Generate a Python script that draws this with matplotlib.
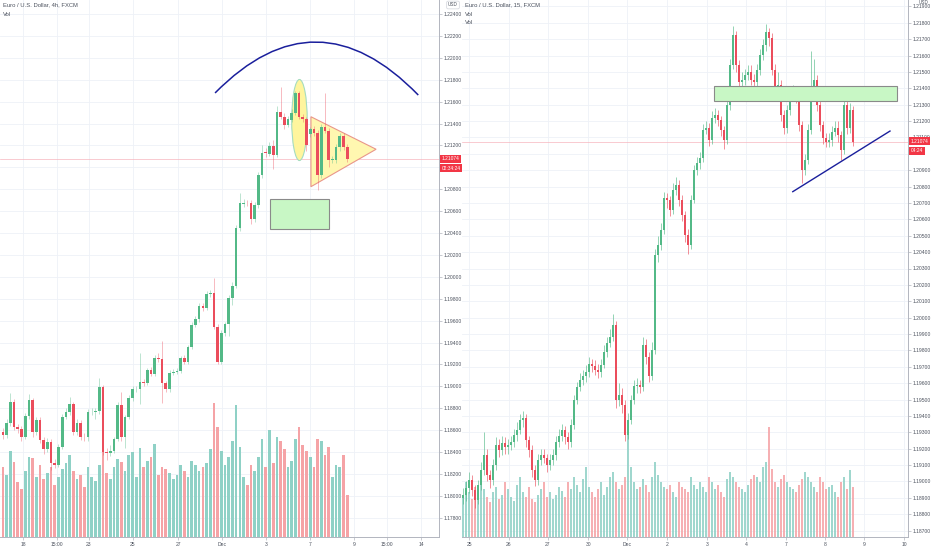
import matplotlib.pyplot as plt
import numpy as np
from matplotlib.patches import Ellipse, Polygon, Rectangle, PathPatch
from matplotlib.path import Path
from matplotlib.collections import PatchCollection
from matplotlib.transforms import blended_transform_factory

plt.rcParams["font.family"] = ["Liberation Sans", "DejaVu Sans"]

UP = "#53b987"
DOWN = "#eb4d5c"
VOL_UP = "#8fd1c6"
VOL_DOWN = "#f5a3a6"
GRID = "#eef1f7"
TXT = "#4c525e"
AXIS = "#b2b5be"

# ---- left panel: EURUSD 4h ----
L_OPEN = [1.18586, 1.18556, 1.18668, 1.18860, 1.18629, 1.18610, 1.18540, 1.18729, 1.18875, 1.18586,
          1.18693, 1.18510, 1.18425, 1.18494, 1.18300, 1.18282, 1.18449, 1.18723, 1.18766, 1.18839,
          1.18586, 1.18668, 1.18540, 1.18537, 1.18766, 1.18768, 1.18775, 1.18994, 1.18403, 1.18391,
          1.18412, 1.18519, 1.18830, 1.18540, 1.18720, 1.18894, 1.18976, 1.18976, 1.19042, 1.19033,
          1.19149, 1.19113, 1.19262, 1.19250, 1.19028, 1.18976, 1.19125, 1.19131, 1.19140, 1.19262,
          1.19222, 1.19362, 1.19560, 1.19612, 1.19734, 1.19718, 1.19843, 1.19855, 1.19545, 1.19225,
          1.19490, 1.19567, 1.19809, 1.19919, 1.20449, 1.20665, 1.20677, 1.20677, 1.20525, 1.20656,
          1.20930, 1.21143, 1.21122, 1.21195, 1.21113, 1.21508, 1.21462, 1.21387, 1.21432, 1.21499,
          1.21676, 1.21462, 1.21439, 1.21304, 1.21347, 1.21316, 1.20930, 1.21371, 1.21334, 1.21067,
          1.21067, 1.21183, 1.21286, 1.21183]
L_CLOSE = [1.18556, 1.18668, 1.18860, 1.18629, 1.18610, 1.18540, 1.18729, 1.18875, 1.18586, 1.18693,
           1.18510, 1.18425, 1.18494, 1.18300, 1.18282, 1.18449, 1.18723, 1.18766, 1.18839, 1.18586,
           1.18668, 1.18540, 1.18537, 1.18766, 1.18768, 1.18775, 1.18994, 1.18403, 1.18391, 1.18412,
           1.18519, 1.18830, 1.18540, 1.18720, 1.18894, 1.18976, 1.18978, 1.19042, 1.19033, 1.19149,
           1.19113, 1.19262, 1.19250, 1.19028, 1.18976, 1.19125, 1.19131, 1.19140, 1.19262, 1.19222,
           1.19362, 1.19560, 1.19612, 1.19734, 1.19718, 1.19843, 1.19855, 1.19545, 1.19225, 1.19490,
           1.19567, 1.19809, 1.19919, 1.20449, 1.20672, 1.20677, 1.20672, 1.20525, 1.20656, 1.20930,
           1.21128, 1.21128, 1.21195, 1.21113, 1.21508, 1.21462, 1.21387, 1.21439, 1.21499, 1.21676,
           1.21462, 1.21439, 1.21204, 1.21347, 1.21316, 1.20930, 1.21371, 1.21334, 1.21067, 1.21073,
           1.21183, 1.21286, 1.21183, 1.21074]
L_HIGH = [1.18620, 1.18700, 1.18939, 1.18880, 1.18660, 1.18640, 1.18760, 1.18930, 1.18890, 1.18720,
          1.18720, 1.18540, 1.18530, 1.18520, 1.18340, 1.18470, 1.18750, 1.18800, 1.18900, 1.18860,
          1.18700, 1.18690, 1.18570, 1.18790, 1.18800, 1.18800, 1.19080, 1.19010, 1.18440, 1.18460,
          1.18540, 1.18860, 1.18950, 1.18740, 1.18920, 1.19000, 1.19000, 1.19300, 1.19070, 1.19170,
          1.19180, 1.19290, 1.19300, 1.19410, 1.19050, 1.19150, 1.19160, 1.19170, 1.19280, 1.19290,
          1.19380, 1.19590, 1.19640, 1.19760, 1.19760, 1.19870, 1.19880, 1.19986, 1.19570, 1.19510,
          1.19590, 1.19830, 1.19950, 1.20470, 1.20765, 1.20710, 1.20700, 1.20700, 1.20680, 1.20960,
          1.21200, 1.21180, 1.21230, 1.21250, 1.21560, 1.21736, 1.21500, 1.21470, 1.21530, 1.21700,
          1.21700, 1.21490, 1.21460, 1.21370, 1.21380, 1.21340, 1.21400, 1.21676, 1.21360, 1.21100,
          1.21210, 1.21310, 1.21310, 1.21210]
L_LOW = [1.18520, 1.18530, 1.18640, 1.18600, 1.18570, 1.18500, 1.18520, 1.18700, 1.18540, 1.18560,
         1.18480, 1.18380, 1.18400, 1.18236, 1.18250, 1.18260, 1.18430, 1.18700, 1.18740, 1.18560,
         1.18560, 1.18510, 1.18500, 1.18500, 1.18740, 1.18700, 1.18750, 1.18370, 1.18330, 1.18360,
         1.18390, 1.18500, 1.18500, 1.18440, 1.18700, 1.18870, 1.18950, 1.18840, 1.19000, 1.19010,
         1.19090, 1.19090, 1.19220, 1.18850, 1.18950, 1.18950, 1.19100, 1.19110, 1.19120, 1.19200,
         1.19200, 1.19340, 1.19540, 1.19590, 1.19690, 1.19700, 1.19820, 1.19520, 1.19200, 1.19200,
         1.19460, 1.19460, 1.19743, 1.19900, 1.20420, 1.20640, 1.20650, 1.20480, 1.20500, 1.20630,
         1.20900, 1.21090, 1.21100, 1.20985, 1.21090, 1.21440, 1.21350, 1.21370, 1.21410, 1.21480,
         1.21440, 1.21410, 1.21150, 1.21280, 1.21290, 1.20793, 1.20900, 1.21310, 1.21000, 1.21040,
         1.21040, 1.21150, 1.21160, 1.21050]
L_VOL = [70, 62, 86, 75, 55, 48, 66, 80, 79, 60, 72, 58, 64, 70, 52, 60, 68, 74, 82, 66,
         58, 62, 50, 70, 60, 56, 72, 86, 64, 58, 70, 78, 75, 66, 82, 85, 60, 89, 70, 76,
         80, 93, 62, 70, 68, 64, 58, 62, 72, 66, 60, 76, 72, 66, 70, 74, 88, 134, 110, 86,
         72, 80, 96, 132, 90, 60, 52, 72, 66, 80, 98, 70, 107, 74, 100, 96, 88, 70, 76, 98,
         110, 92, 86, 80, 70, 98, 96, 82, 90, 60, 72, 70, 82, 42]
L_XTICK_POS = [5.4, 14.6, 23.2, 35.1, 47.3, 59.2, 71.1, 83.0, 94.9, 103.8, 113.0]
L_XTICK_LBL = ["18", "15:00", "23", "25", "27", "Dec", "3", "7", "9", "15:00", "14"]
L_YTICKS = [1.178 + 0.002 * k for k in range(24)]

# ---- right panel: EURUSD 15m ----
R_FIRST_OPEN = 1.18900
R_CLOSE = [1.18917, 1.18960, 1.19009, 1.18948, 1.18887, 1.18978, 1.19070, 1.19161, 1.19039, 1.19009,
           1.19100, 1.19222, 1.19192, 1.19235, 1.19210, 1.19222, 1.19241, 1.19283, 1.19314, 1.19375,
           1.19387, 1.19253, 1.19192, 1.19070, 1.19009, 1.19131, 1.19161, 1.19143, 1.19100, 1.19131,
           1.19161, 1.19241, 1.19277, 1.19314, 1.19271, 1.19241, 1.19344, 1.19497, 1.19576, 1.19619,
           1.19644, 1.19668, 1.19717, 1.19705, 1.19681, 1.19668, 1.19711, 1.19790, 1.19845, 1.19882,
           1.19955, 1.19497, 1.19528, 1.19466, 1.19283, 1.19375, 1.19497, 1.19582, 1.19589, 1.19576,
           1.19833, 1.19760, 1.19644, 1.19802, 1.20382, 1.20443, 1.20535, 1.20730, 1.20718, 1.20657,
           1.20779, 1.20810, 1.20718, 1.20626, 1.20504, 1.20443, 1.20718, 1.20901, 1.20944, 1.20974,
           1.21145, 1.21158, 1.21084, 1.21219, 1.21237, 1.21207, 1.21145, 1.21084, 1.21298, 1.21542,
           1.21725, 1.21542, 1.21438, 1.21451, 1.21481, 1.21499, 1.21451, 1.21438, 1.21512, 1.21603,
           1.21664, 1.21744, 1.21707, 1.21512, 1.21390, 1.21420, 1.21237, 1.21158, 1.21267, 1.21359,
           1.21377, 1.21341, 1.21176, 1.20901, 1.20962, 1.21145, 1.21359, 1.21451, 1.21298, 1.21176,
           1.21097, 1.21072, 1.21084, 1.21133, 1.21158, 1.21115, 1.21023, 1.21298, 1.21158, 1.21267,
           1.21074]
R_HIGH = [1.1896, 1.1900, 1.1906, 1.1904, 1.1898, 1.1901, 1.1912, 1.1930, 1.1920, 1.1907,
          1.1914, 1.1927, 1.1926, 1.1928, 1.1927, 1.1926, 1.1928, 1.1932, 1.1936, 1.1941,
          1.1943, 1.1941, 1.1928, 1.1922, 1.1910, 1.1917, 1.1920, 1.1920, 1.1917, 1.1917,
          1.1920, 1.1928, 1.1932, 1.1935, 1.1934, 1.1930, 1.1938, 1.1953, 1.1961, 1.1966,
          1.1968, 1.1971, 1.1976, 1.1975, 1.1974, 1.1972, 1.1975, 1.1983, 1.1988, 1.1993,
          1.2002, 1.1998, 1.1960, 1.1957, 1.1950, 1.1942, 1.1953, 1.1962, 1.1963, 1.1962,
          1.1988, 1.1987, 1.1979, 1.1985, 1.2042, 1.2050, 1.2058, 1.2077, 1.2076, 1.2074,
          1.2082, 1.2086, 1.2084, 1.2075, 1.2065, 1.2054, 1.2075, 1.2093, 1.2098, 1.2101,
          1.2118, 1.2120, 1.2119, 1.2126, 1.2128, 1.2127, 1.2123, 1.2117, 1.2134, 1.2158,
          1.2178, 1.2175, 1.2157, 1.2150, 1.2152, 1.2154, 1.2154, 1.2149, 1.2155, 1.2164,
          1.2170, 1.2179, 1.2177, 1.2174, 1.2155, 1.2150, 1.2145, 1.2127, 1.2130, 1.2140,
          1.2142, 1.2141, 1.2137, 1.2120, 1.2100, 1.2118, 1.2163, 1.2158, 1.2148, 1.2133,
          1.2120, 1.2113, 1.2113, 1.2117, 1.2120, 1.2120, 1.2114, 1.2134, 1.2133, 1.2131,
          1.2129]
R_LOW = [1.1886, 1.1888, 1.1893, 1.1891, 1.1884, 1.1886, 1.1895, 1.1904, 1.1900, 1.1896,
         1.1898, 1.1907, 1.1915, 1.1916, 1.1917, 1.1917, 1.1919, 1.1921, 1.1925, 1.1929,
         1.1933, 1.1921, 1.1915, 1.1903, 1.1897, 1.1898, 1.1910, 1.1911, 1.1906, 1.1907,
         1.1910, 1.1913, 1.1921, 1.1925, 1.1923, 1.1920, 1.1921, 1.1932, 1.1947, 1.1955,
         1.1959, 1.1961, 1.1964, 1.1967, 1.1965, 1.1963, 1.1964, 1.1969, 1.1976, 1.1982,
         1.1986, 1.1945, 1.1946, 1.1942, 1.1925, 1.1926, 1.1935, 1.1947, 1.1954, 1.1954,
         1.1955, 1.1972, 1.1961, 1.1962, 1.1978, 1.2034, 1.2041, 1.2051, 1.2067, 1.2062,
         1.2063, 1.2075, 1.2068, 1.2059, 1.2046, 1.2039, 1.2042, 1.2070, 1.2087, 1.2091,
         1.2095, 1.2112, 1.2105, 1.2106, 1.2119, 1.2117, 1.2111, 1.2103, 1.2106, 1.2127,
         1.2152, 1.2150, 1.2140, 1.2140, 1.2142, 1.2145, 1.2142, 1.2140, 1.2141, 1.2148,
         1.2157, 1.2163, 1.2166, 1.2148, 1.2135, 1.2136, 1.2120, 1.2112, 1.2113, 1.2124,
         1.2133, 1.2131, 1.2114, 1.2082, 1.2087, 1.2094, 1.2112, 1.2133, 1.2126, 1.2114,
         1.2106, 1.2104, 1.2104, 1.2105, 1.2111, 1.2107, 1.2096, 1.2100, 1.2112, 1.2113,
         1.2105]
R_VOL = [40, 55, 45, 38, 50, 42, 60, 48, 40, 35, 45, 50, 38, 42, 55, 48, 40, 36, 52, 60,
         45, 40, 50, 38, 35, 42, 48, 55, 40, 45, 38, 42, 50, 46, 40, 55, 48, 60, 52, 45,
         58, 70, 50, 45, 40, 48, 55, 42, 50, 60, 65, 55, 48, 52, 60, 109, 70, 55, 48, 50,
         58, 52, 45, 60, 75, 62, 55, 50, 48, 52, 45, 40, 55, 50, 48, 45, 60, 52, 48, 55,
         50, 45, 60, 55, 48, 52, 45, 40, 58, 65, 60, 55, 50, 48, 45, 52, 58, 62, 60, 55,
         70, 75, 110, 68, 55, 50, 58, 62, 55, 50, 48, 45, 52, 58, 65, 60, 55, 50, 45, 60,
         55, 48, 50, 52, 45, 40, 55, 60, 48, 67, 50]
R_XTICK_POS = [2, 15.3, 28.3, 41.7, 54.7, 68, 81.3, 94.3, 107.7, 120.7, 133.7, 147]
R_XTICK_LBL = ["25", "26", "27", "30", "Dec", "2", "3", "4", "7", "8", "9", "10"]
R_YTICKS = [1.187 + 0.001 * k for k in range(33)]

W, H = 932, 550


def px_rect(x0, y0, w, h):
    return [x0 / W, 1 - (y0 + h) / H, w / W, h / H]


def candles(ax, o, c, hi, lo, body_w, wick_lw, wick_alpha, min_h):
    o, c = np.asarray(o), np.asarray(c)
    x = np.arange(len(o))
    col = np.where(c >= o, UP, DOWN)
    ax.vlines(x, lo, hi, colors=col, lw=wick_lw, alpha=wick_alpha, zorder=3)
    ax.bar(x, np.maximum(np.abs(c - o), min_h), body_w, bottom=np.minimum(o, c),
           color=col, linewidth=0, zorder=4)
    return col


def volume(ax, vol, up_mask, width, frac, alpha=1.0):
    tr = blended_transform_factory(ax.transData, ax.transAxes)
    top = max(vol) / frac
    rects = [Rectangle((i - width / 2, 0), width, v / top) for i, v in enumerate(vol)]
    cols = [VOL_UP if u else VOL_DOWN for u in up_mask]
    pc = PatchCollection(rects, facecolor=cols, edgecolor="none", transform=tr,
                         zorder=2, alpha=alpha)
    ax.add_collection(pc)


def style_axes(ax, yticks, xpos, xlbl, hidden):
    # labels sitting under the last-price tags are covered in the original
    ax.set_yticks(yticks)
    ax.set_yticklabels(["" if abs(t - hidden) < 1e-7 else f"{t:.5f}" for t in yticks])
    ax.yaxis.tick_right()
    ax.set_xticks(xpos)
    ax.set_xticklabels(xlbl)
    ax.tick_params(axis="both", labelsize=3.6, colors=AXIS, labelcolor=TXT,
                   length=2, width=0.5, pad=1.5)
    ax.grid(True, color=GRID, lw=0.6, zorder=0)
    ax.set_axisbelow(True)
    for s in ("top", "left"):
        ax.spines[s].set_visible(False)
    for s in ("right", "bottom"):
        ax.spines[s].set_color(AXIS)
        ax.spines[s].set_linewidth(0.7)


def price_tags(ax, price, timer):
    ax.axhline(price, color="#f7b5bd", lw=0.5, zorder=1)
    box = dict(boxstyle="square,pad=0.3", fc="#f23645", ec="none")
    ax.annotate(f"{price:.5f}", xy=(1, price), xycoords=("axes fraction", "data"),
                xytext=(2, 0.3), textcoords="offset points", fontsize=3.5, color="white",
                va="center", ha="left", bbox=box, annotation_clip=False, zorder=10)
    ax.annotate(timer, xy=(1, price), xycoords=("axes fraction", "data"),
                xytext=(2, -6.6), textcoords="offset points", fontsize=3.5, color="white",
                va="center", ha="left", bbox=box, annotation_clip=False, zorder=10)


fig = plt.figure(figsize=(W / 100, H / 100), dpi=100)
fig.patch.set_facecolor("white")

# ----- left chart -----
axl = fig.add_axes(px_rect(0, 0, 439, 537))
cols = candles(axl, L_OPEN, L_CLOSE, L_HIGH, L_LOW, 0.72, 0.6, 0.45, 0.00004)
volume(axl, L_VOL, [c == UP for c in cols], 0.72, 0.25)
axl.set_xlim(-0.8, 117.8)
axl.set_ylim(1.17624, 1.22528)
style_axes(axl, L_YTICKS, L_XTICK_POS, L_XTICK_LBL, hidden=1.210)
price_tags(axl, L_CLOSE[-1], "02:34:24")

# drawings on the 4h chart (shapes sit under the candles, like the semi-transparent fills)
arc = Path([(57.3, 1.21679), (84.7, 1.22619), (112.2, 1.21660)],
           [Path.MOVETO, Path.CURVE3, Path.CURVE3])
axl.add_patch(PathPatch(arc, fc="none", ec="#1a1f9c", lw=1.1, zorder=6))
axl.add_patch(Ellipse((80.1, 1.21432), 4.2, 0.0074, fc="#fff59d", ec="#a5dcc0",
                      lw=0.8, zorder=2.5))
axl.add_patch(Polygon([(83.2, 1.21462), (83.2, 1.20823), (100.8, 1.21165)], closed=True,
                      fc="#fff7b0", ec="#e9968a", lw=0.8, zorder=2.5))
axl.add_patch(Rectangle((72.2, 1.20434), 15.8, 0.00274, fc="#c8f7c5", ec="#8a8a8a",
                        lw=0.8, zorder=5))
axl.text(3 / 439, 1 - 5 / 537, "Euro / U.S. Dollar, 4h, FXCM", transform=axl.transAxes,
         fontsize=4.2, color=TXT, va="center", ha="left")
axl.text(3 / 439, 1 - 14 / 537, "Vol", transform=axl.transAxes,
         fontsize=4.2, color=TXT, va="center", ha="left")
fig.text(453 / W, 1 - 5 / H, "USD", fontsize=3.3, color=TXT, ha="center", va="center",
         bbox=dict(boxstyle="round,pad=0.3", fc="white", ec="#d0d3da", lw=0.5))

# ----- right chart -----
axr = fig.add_axes(px_rect(462, 0, 446, 537))
r_open = [R_FIRST_OPEN] + R_CLOSE[:-1]
cols_r = candles(axr, r_open, R_CLOSE, R_HIGH, R_LOW, 0.45, 0.55, 0.8, 0.00003)
volume(axr, R_VOL, [c == UP for c in cols_r], 0.85, 0.205, alpha=0.85)
axr.set_xlim(-0.33, 148.3)
axr.set_ylim(1.18661, 1.21939)
style_axes(axr, R_YTICKS, R_XTICK_POS, R_XTICK_LBL, hidden=1.210)
price_tags(axr, R_CLOSE[-1], "04:24")

axr.add_patch(Rectangle((83.7, 1.21324), 61.0, 0.00092, fc="#c8f7c5", ec="#8a8a8a",
                        lw=0.8, zorder=5, clip_on=False))
axr.plot([109.9, 142.3], [1.20769, 1.21139], color="#1a1f9c", lw=1.0, zorder=6)
for k, s in enumerate(["Euro / U.S. Dollar, 15, FXCM", "Vol", "Vol"]):
    axr.text(3 / 446, 1 - (5 + 9 * k) / 537, s, transform=axr.transAxes,
             fontsize=4.2, color=TXT, va="center", ha="left")
fig.text(924 / W, 1 - 3 / H, "USD", fontsize=3.3, color=TXT, ha="center", va="center")

fig.savefig("out.png", dpi=100, facecolor="white")
